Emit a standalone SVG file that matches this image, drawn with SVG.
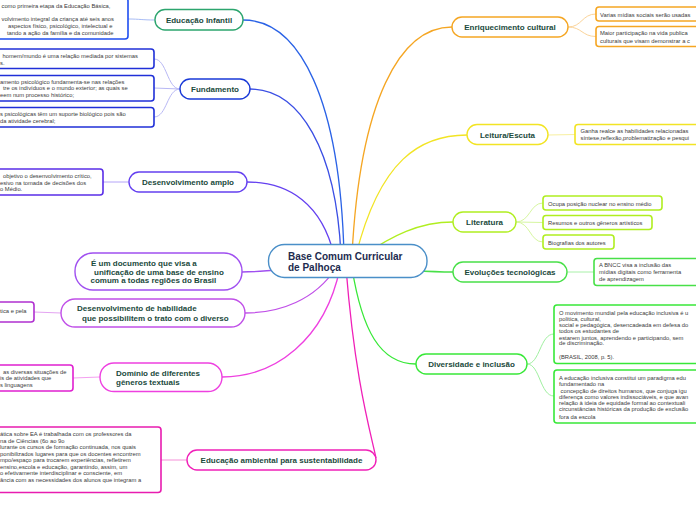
<svg xmlns="http://www.w3.org/2000/svg" width="696" height="520" viewBox="0 0 696 520">
<style>
.n{fill:#fff;stroke-width:1.4}
.l{fill:#fff;stroke-width:1.6}
.t{font-family:"Liberation Sans",Arial,sans-serif;font-weight:bold;font-size:8px;fill:#1b4a3c}
.lt{font-family:"Liberation Sans",Arial,sans-serif;font-size:5.8px;fill:#3a3a3a}
.c{fill:none;stroke-width:1.3}
.s{fill:none;stroke-width:1}
</style>
<rect width="696" height="520" fill="#fff"/>
<g id="connectors">
<path class="c" stroke="#2a62e6" d="M243,20 C300,20 340,100 344,255"/>
<path class="c" stroke="#3a4ee4" d="M250,89 C300,89 336,150 341,255"/>
<path class="c" stroke="#6440f0" d="M247,182 C290,182 322,205 334,255"/>
<path class="c" stroke="#a050f0" d="M242,272 C265,272 290,268 330,266"/>
<path class="c" stroke="#c050e8" d="M245,313 C280,313 315,300 336,268"/>
<path class="c" stroke="#ee40e0" d="M222,377 C275,377 325,340 340,268"/>
<path class="c" stroke="#f020b8" d="M346,268 C355,380 370,430 376,458"/>
<path class="c" stroke="#f5a623" d="M352,255 C360,100 400,27 452,27"/>
<path class="c" stroke="#f2e424" d="M356,255 C380,160 420,135 467,135"/>
<path class="c" stroke="#b0ee20" d="M360,258 C392,235 420,222 453,222"/>
<path class="c" stroke="#48e048" d="M360,266 C400,270 430,272 453,272"/>
<path class="c" stroke="#38e838" d="M352,268 C362,330 380,364 416,364"/>
<path class="s" stroke="#a8bcf5" d="M155,20 C142,20 140,19 128,19"/>
<path class="s" stroke="#b8b8f5" d="M180,89 C167,89 167,59 154,59 M180,89 L154,88 M180,89 C167,89 167,117 154,117"/>
<path class="s" stroke="#b4a4f8" d="M129,182 L103,182"/>
<path class="s" stroke="#e4a4f2" d="M61,313 L34,312"/>
<path class="s" stroke="#f4a0f0" d="M100,377 L73,378"/>
<path class="s" stroke="#f590d8" d="M187,460 L161,460"/>
<path class="s" stroke="#fbd49a" d="M568,27 C582,27 582,14 596,14 M568,27 C582,27 582,36.5 596,36.5"/>
<path class="s" stroke="#f8f0a0" d="M548,135 L575,134.5"/>
<path class="s" stroke="#d6f6a0" d="M516,222 C530,222 530,203 543,203 M516,222 L543,222.5 M516,222 C530,222 530,242 543,242"/>
<path class="s" stroke="#a8f0a8" d="M567,272 L594,272"/>
<path class="s" stroke="#a0f0a0" d="M527,364 C540,364 540,334 554,334 M527,364 C540,364 540,396 554,396"/>
</g>
<g id="center">
<rect class="n" x="268.5" y="244.5" width="158.5" height="33" rx="16" stroke="#4a8fc8"/>
<text x="288" y="259.5" font-family="Liberation Sans,Arial,sans-serif" font-weight="bold" font-size="10" fill="#1d2b4f">Base Comum Curricular</text>
<text x="288" y="271" font-family="Liberation Sans,Arial,sans-serif" font-weight="bold" font-size="10" fill="#1d2b4f">de Palhoça</text>
</g>
<g id="educacao-infantil">
<rect class="n" x="155" y="9.5" width="88" height="20.5" rx="10" stroke="#2ca56e"/>
<text class="t" x="199" y="23" text-anchor="middle">Educação Infantil</text>
</g>
<g id="educacao-infantil-leaf">
<rect class="l" x="-10" y="-2" width="138" height="41" rx="3" stroke="#1f4ef0"/>
<text class="lt" x="1.5" y="8">como primeira etapa da Educação Básica,</text>
<text class="lt" x="1.5" y="21">volvimento integral da criança até seis anos</text>
<text class="lt" x="8" y="27.5">aspectos físico, psicológico, intelectual e</text>
<text class="lt" x="7" y="34.5">tando a ação da família e da comunidade</text>
</g>
<g id="fundamento">
<rect class="n" x="180" y="79" width="70" height="20" rx="10" stroke="#1a3ad8"/>
<text class="t" x="215" y="92" text-anchor="middle">Fundamento</text>
</g>
<g id="fundamento-leaf1">
<rect class="l" x="-10" y="49" width="164" height="19.5" rx="3" stroke="#2030d8"/>
<text class="lt" x="2.5" y="58">homem/mundo é uma relação mediada por sistemas</text>
<text class="lt" x="0" y="64.5">s.</text>
</g>
<g id="fundamento-leaf2">
<rect class="l" x="-10" y="75.5" width="164" height="25.5" rx="3" stroke="#2030d8"/>
<text class="lt" x="0" y="83.5">amento psicológico fundamenta-se nas relações</text>
<text class="lt" x="3" y="90">tre os indivíduos e o mundo exterior; as quais se</text>
<text class="lt" x="0" y="97">eem num processo histórico;</text>
</g>
<g id="fundamento-leaf3">
<rect class="l" x="-10" y="107.5" width="164" height="19.5" rx="3" stroke="#2030d8"/>
<text class="lt" x="0" y="115.5">s psicológicas têm um suporte biológico pois são</text>
<text class="lt" x="0" y="123">da atividade cerebral;</text>
</g>
<g id="desenvolvimento-amplo">
<rect class="n" x="129" y="172" width="118" height="20" rx="10" stroke="#6440f0"/>
<text class="t" x="188" y="185" text-anchor="middle">Desenvolvimento amplo</text>
</g>
<g id="desenvolvimento-amplo-leaf">
<rect class="l" x="-10" y="169" width="113" height="26" rx="3" stroke="#5a2ee8"/>
<text class="lt" x="3" y="177.5">objetivo o desenvolvimento crítico,</text>
<text class="lt" x="0" y="184.5">esivo na tomada de decisões dos</text>
<text class="lt" x="0" y="191">o Médio.</text>
</g>
<g id="documento">
<rect class="n" x="75" y="253" width="167" height="37" rx="18" stroke="#a050f0"/>
<text class="t" x="91" y="266">É um documento que visa a</text>
<text class="t" x="94" y="274.5">unificação de uma base de ensino</text>
<text class="t" x="90.5" y="282.5">comum a todas regiões do Brasil</text>
</g>
<g id="habilidade">
<rect class="n" x="61" y="299" width="184" height="28" rx="14" stroke="#c050e8"/>
<text class="t" x="77" y="311">Desenvolvimento de habilidade</text>
<text class="t" x="82" y="320.5">que possibilitem o trato com o diverso</text>
</g>
<g id="habilidade-leaf">
<rect class="l" x="-10" y="302" width="44" height="20" rx="3" stroke="#b030d0"/>
<text class="lt" x="0" y="312.5">tica e pela</text>
</g>
<g id="dominio">
<rect class="n" x="100" y="363" width="122" height="28.5" rx="14" stroke="#ee40e0"/>
<text class="t" x="116" y="375.5">Domínio de diferentes</text>
<text class="t" x="116" y="385">gêneros textuais</text>
</g>
<g id="dominio-leaf">
<rect class="l" x="-10" y="365" width="83" height="26" rx="3" stroke="#e020d0"/>
<text class="lt" x="3" y="373.5">as diversas situações de</text>
<text class="lt" x="0" y="380">is de atividades que</text>
<text class="lt" x="0" y="387">s linguagens</text>
</g>
<g id="educacao-ambiental">
<rect class="n" x="187" y="450" width="189" height="20" rx="10" stroke="#f020b8"/>
<text class="t" x="281.5" y="463" text-anchor="middle">Educação ambiental para sustentabilidade</text>
</g>
<g id="educacao-ambiental-leaf">
<rect class="l" x="-10" y="427" width="171" height="65.5" rx="3" stroke="#e81cb0"/>
<text class="lt" x="0" y="436">ática sobre EA é trabalhada com os professores da</text>
<text class="lt" x="0" y="442.5">na de Ciências (6o ao 9o</text>
<text class="lt" x="0" y="449">lurante os cursos de formação continuada, nos quais</text>
<text class="lt" x="0" y="455.5">ponibilizados lugares para que os docentes encontrem</text>
<text class="lt" x="0" y="462">mpo/espaço para trocarem experiências, refletirem</text>
<text class="lt" x="0" y="468.5">ensino,escola e educação, garantindo, assim, um</text>
<text class="lt" x="0" y="475">o efetivamente interdisciplinar e consciente, em</text>
<text class="lt" x="0" y="481.5">ância com as necessidades dos alunos que integram a</text>
</g>
<g id="enriquecimento">
<rect class="n" x="452" y="17" width="116" height="20" rx="10" stroke="#f5a623"/>
<text class="t" x="510" y="30" text-anchor="middle">Enriquecimento cultural</text>
</g>
<g id="enriquecimento-leaf1">
<rect class="l" x="596" y="7" width="110" height="14" rx="3" stroke="#f5a623"/>
<text class="lt" x="600" y="16.5">Varias mídias sociais serão usadas</text>
</g>
<g id="enriquecimento-leaf2">
<rect class="l" x="596" y="26.5" width="110" height="20" rx="3" stroke="#f5a623"/>
<text class="lt" x="600" y="35">Maior participação na vida publica</text>
<text class="lt" x="600" y="42.5">culturais que visam demonstrar a c</text>
</g>
<g id="leitura">
<rect class="n" x="467" y="124.5" width="81" height="20" rx="10" stroke="#f2e424"/>
<text class="t" x="507.5" y="137.5" text-anchor="middle">Leitura/Escuta</text>
</g>
<g id="leitura-leaf">
<rect class="l" x="575" y="124.5" width="130" height="20" rx="3" stroke="#f2e424"/>
<text class="lt" x="580.5" y="133">Ganha realce as habilidades relacionadas</text>
<text class="lt" x="580.5" y="140">síntese,reflexão,problematização e pesqui</text>
</g>
<g id="literatura">
<rect class="n" x="453" y="212" width="63" height="20" rx="10" stroke="#b0ee20"/>
<text class="t" x="484.5" y="225" text-anchor="middle">Literatura</text>
</g>
<g id="literatura-leaf1">
<rect class="l" x="543" y="196" width="119" height="14" rx="3" stroke="#b0ee20"/>
<text class="lt" x="548" y="205.5">Ocupa posição nuclear no ensino médio</text>
</g>
<g id="literatura-leaf2">
<rect class="l" x="543" y="215.5" width="109" height="14" rx="3" stroke="#b0ee20"/>
<text class="lt" x="548" y="225">Resumos e outros gêneros artísticos</text>
</g>
<g id="literatura-leaf3">
<rect class="l" x="543" y="235" width="71" height="14" rx="3" stroke="#b0ee20"/>
<text class="lt" x="548" y="244.5">Biografias dos autores</text>
</g>
<g id="evolucoes">
<rect class="n" x="453" y="262" width="114" height="20" rx="10" stroke="#48e048"/>
<text class="t" x="510" y="275" text-anchor="middle">Evoluções tecnológicas</text>
</g>
<g id="evolucoes-leaf">
<rect class="l" x="594" y="258.5" width="110" height="27" rx="3" stroke="#48e048"/>
<text class="lt" x="599" y="267">A BNCC visa a inclusão das</text>
<text class="lt" x="599" y="274">mídias digitais como ferramenta</text>
<text class="lt" x="599" y="281">de aprendizagem</text>
</g>
<g id="diversidade">
<rect class="n" x="416" y="354" width="111" height="20" rx="10" stroke="#38e838"/>
<text class="t" x="471.5" y="367" text-anchor="middle">Diversidade e inclusão</text>
</g>
<g id="diversidade-leaf1">
<rect class="l" x="554" y="305" width="150" height="58.5" rx="3" stroke="#38e838"/>
<text class="lt" x="559" y="315">O movimento mundial pela educação inclusiva é u</text>
<text class="lt" x="559" y="320.5">política, cultural,</text>
<text class="lt" x="559" y="327">social e pedagógica, desencadeada em defesa do</text>
<text class="lt" x="559" y="332.5">todos os estudantes de</text>
<text class="lt" x="559" y="339.5">estarem juntos, aprendendo e participando, sem</text>
<text class="lt" x="559" y="345">de discriminação.</text>
<text class="lt" x="559" y="359">(BRASIL, 2008, p. 5).</text>
</g>
<g id="diversidade-leaf2">
<rect class="l" x="554" y="370" width="150" height="53" rx="3" stroke="#38e838"/>
<text class="lt" x="559" y="379.5">A educação inclusiva constitui um paradigma edu</text>
<text class="lt" x="559" y="386">fundamentado na</text>
<text class="lt" x="560.6" y="392.5">concepção de direitos humanos, que conjuga igu</text>
<text class="lt" x="559" y="398.5">diferença como valores indissociáveis, e que avan</text>
<text class="lt" x="559" y="404.5">relação à ideia de equidade formal ao contextuali</text>
<text class="lt" x="559" y="411">circunstâncias históricas da produção de exclusão</text>
<text class="lt" x="559" y="418.5">fora da escola</text>
</g>
</svg>
